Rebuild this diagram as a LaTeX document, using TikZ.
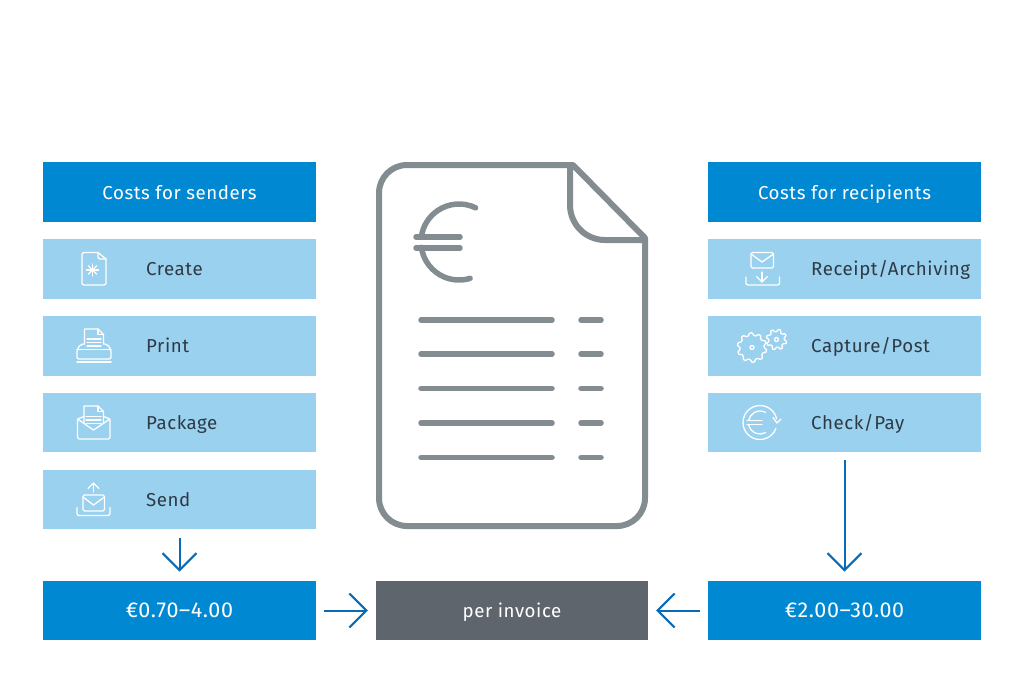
\documentclass[tikz,border=0pt]{standalone}
\usepackage{fontspec}
\setmainfont{Fira Sans}[LetterSpace=3]
\usetikzlibrary{arrows.meta}
\definecolor{headblue}{HTML}{0089D2}
\definecolor{rowblue}{HTML}{9AD1EE}
\definecolor{arrowblue}{HTML}{0A6AB5}
\definecolor{slate}{HTML}{5E656C}
\definecolor{docgrey}{HTML}{838C90}
\definecolor{labelink}{HTML}{2E3A45}
\tikzstyle{headbox}=[rectangle,fill=headblue,text=white,minimum width=273pt,minimum height=59.5pt,inner sep=0pt,text height=18pt,text depth=4pt,font=\fontsize{18.7}{22}\selectfont]
\tikzstyle{costbox}=[headbox,font=\fontsize{21.5}{24}\selectfont]
\tikzstyle{rowbox}=[rectangle,fill=rowblue,minimum width=273pt,minimum height=59.5pt,inner sep=0pt]
\tikzstyle{perbox}=[headbox,fill=slate,minimum width=272pt]
\tikzstyle{rowlabel}=[anchor=base west,inner sep=0pt,text=labelink,font=\fontsize{18.7}{22}\selectfont]
\tikzstyle{flow} = [draw,arrowblue,line width=2pt,-{Straight Barb[length=17pt,width=34pt]}]
\tikzstyle{docline} = [draw,docgrey,line width=6pt,line join=round]
\tikzstyle{docrule} = [draw,docgrey,line width=5.5pt,line cap=round]
\tikzstyle{icon} = [draw,white,line width=1.3pt,line join=round,line cap=round]
\newcommand{\gearicon}[4]{%
  \begin{scope}[shift={(#1)}]
    \pgfmathsetmacro{\gstep}{360/#3/4}
    \foreach \i in {1,...,#3}{
      \pgfmathsetmacro{\ga}{(\i-1)*4*\gstep}
      \draw[icon] (\ga:#2-2.5) -- (\ga+\gstep:#2) -- (\ga+2*\gstep:#2) -- (\ga+3*\gstep:#2-2.5) -- (\ga+4*\gstep:#2-2.5);
    }
    \draw[icon] (0,0) circle (#4);
  \end{scope}}
\begin{document}
\begin{tikzpicture}[x=1pt,y=-1pt]
\useasboundingbox (0,0) rectangle (1024,683);

%boxes
    \foreach \pos/\name/\label in {{(179.5,192)/senders/Costs for senders},{(844.5,192)/recipients/Costs for recipients}}
        \node[headbox] (\name) at \pos {\label};
    \foreach \pos/\name/\label in {{(179.5,610.5)/sendcost/€0.70–4.00},{(844.5,610.5)/recvcost/€2.00–30.00}}
        \node[costbox] (\name) at \pos {\label};
    \node[perbox] (perinvoice) at (512,610.5) {per invoice};
    \foreach \pos/\name in {{(179.5,269)/create},{(179.5,346)/print},{(179.5,422.5)/package},{(179.5,499.5)/send},{(844.5,269)/receipt},{(844.5,346)/capture},{(844.5,422.5)/check}}
        \node[rowbox] (\name) at \pos {};

% Label
    \foreach \pos/\label in {{(146,275.5)/Create},{(146,352.5)/Print},{(146,429)/Package},{(146,506)/Send},{(811,275.5)/{Receipt/Archiving}},{(811,352.5)/{Capture/Post}},{(811,429)/{Check/Pay}}}
        \node[rowlabel] at \pos {\label};

%arrows
    \path[flow,shorten <=9pt,shorten >=9pt] (send) -- (send |- sendcost.north);
    \path[flow,shorten <=8pt,shorten >=9pt] (check.south) -- (recvcost.north);
    \path[flow,shorten <=8pt,shorten >=8pt] (sendcost) -- (perinvoice);
    \path[flow,shorten <=8pt,shorten >=8pt] (recvcost) -- (perinvoice);

%document
    \draw[docline] (573,165) -- (407,165) arc (-90:-180:28) -- (379,498) arc (180:90:28) -- (617,526) arc (90:0:28) -- (645,238) -- cycle;
    \draw[docline] (570,165) -- (570,205) arc (180:90:35) -- (645,240);
    \begin{scope}[shift={(459,242)}]
        \draw[docrule] (-64:38) arc (-64:-172:38);
        \draw[docrule] (172:38) arc (172:73:38);
    \end{scope}
    \draw[docrule] (416,237) -- (460,237);
    \draw[docrule] (416,248) -- (460,248);
    \foreach \y in {320,354,388.5,423,457.5}{
        \draw[docrule] (421,\y) -- (552,\y);
        \draw[docrule] (581,\y) -- (601,\y);
    }

%create icon
    \draw[icon,rounded corners=2pt] (98,252.5) -- (82,252.5) -- (82,285) -- (106,285) -- (106,259);
    \draw[icon] (98,252.5) -- (106,259);
    \draw[icon,rounded corners=2pt] (98,252.5) -- (98,259) -- (106,259);
    \foreach \a in {0,45,...,315}
        \draw[icon] (92.5,270) -- +(\a:6);

%print icon
    \draw[icon] (84.5,344) -- (84.5,329) -- (98,329) -- (103.5,334.5) -- (103.5,344);
    \draw[icon] (98,329) -- (98,334.5) -- (103.5,334.5);
    \foreach \y in {339,342.5,346}
        \draw[icon] (87,\y) -- (101,\y);
    \draw[icon,rounded corners=2pt] (84.5,344) -- (81,344) -- (77,349.5) -- (77,359) -- (111,359) -- (111,349.5) -- (107,344) -- (103.5,344);
    \draw[icon] (77,349.5) -- (111,349.5);
    \draw[icon,line width=1.6pt] (77,362) -- (111,362);

%package icon
    \draw[icon,rounded corners=1.5pt] (84,416.5) -- (77.5,419) -- (77.5,439) -- (110,439) -- (110,419) -- (103.5,416.5);
    \draw[icon] (77.5,419) -- (93.5,430) -- (110,419);
    \draw[icon] (84,423) -- (84,406) -- (98,406) -- (103.5,411.5) -- (103.5,423);
    \draw[icon] (98,406) -- (98,411.5) -- (103.5,411.5);
    \foreach \y in {416.5,420,423.5}
        \draw[icon] (86,\y) -- (101,\y);

%send icon
    \draw[icon,rounded corners=1.5pt] (83,495) rectangle (104.5,511);
    \draw[icon] (83,497) -- (93.5,505) -- (104.5,497);
    \draw[icon] (93.5,492) -- (93.5,483);
    \draw[icon] (88,488.5) -- (93.5,483) -- (99,488.5);
    \draw[icon,rounded corners=2pt] (77,507.5) -- (77,515.5) -- (110,515.5) -- (110,507.5);

%receipt icon
    \draw[icon,rounded corners=1.5pt] (751,252.5) rectangle (773.5,268);
    \draw[icon] (751,254) -- (762,262) -- (773.5,254);
    \draw[icon] (762,272) -- (762,282);
    \draw[icon] (756.5,276.5) -- (762,282) -- (767.5,276.5);
    \draw[icon,rounded corners=2pt] (746,277) -- (746,285) -- (779.5,285) -- (779.5,277);

%capture icon
    \gearicon{752,347.5}{14.7}{10}{2}
    \gearicon{776.5,339.5}{10.3}{8}{2}

%check icon
    \begin{scope}[shift={(760,422.5)}]
        \draw[icon] (-12:17) arc (-12:-340:17);
        \draw[icon] (-62:11.5) arc (-62:-170:11.5);
        \draw[icon] (170:11.5) arc (170:62:11.5);
    \end{scope}
    \draw[icon] (773,417.5) -- (777,423) -- (781,419);
    \draw[icon] (747,420.5) -- (762,420.5);
    \draw[icon] (747,424.5) -- (762,424.5);

\end{tikzpicture}
\end{document}
